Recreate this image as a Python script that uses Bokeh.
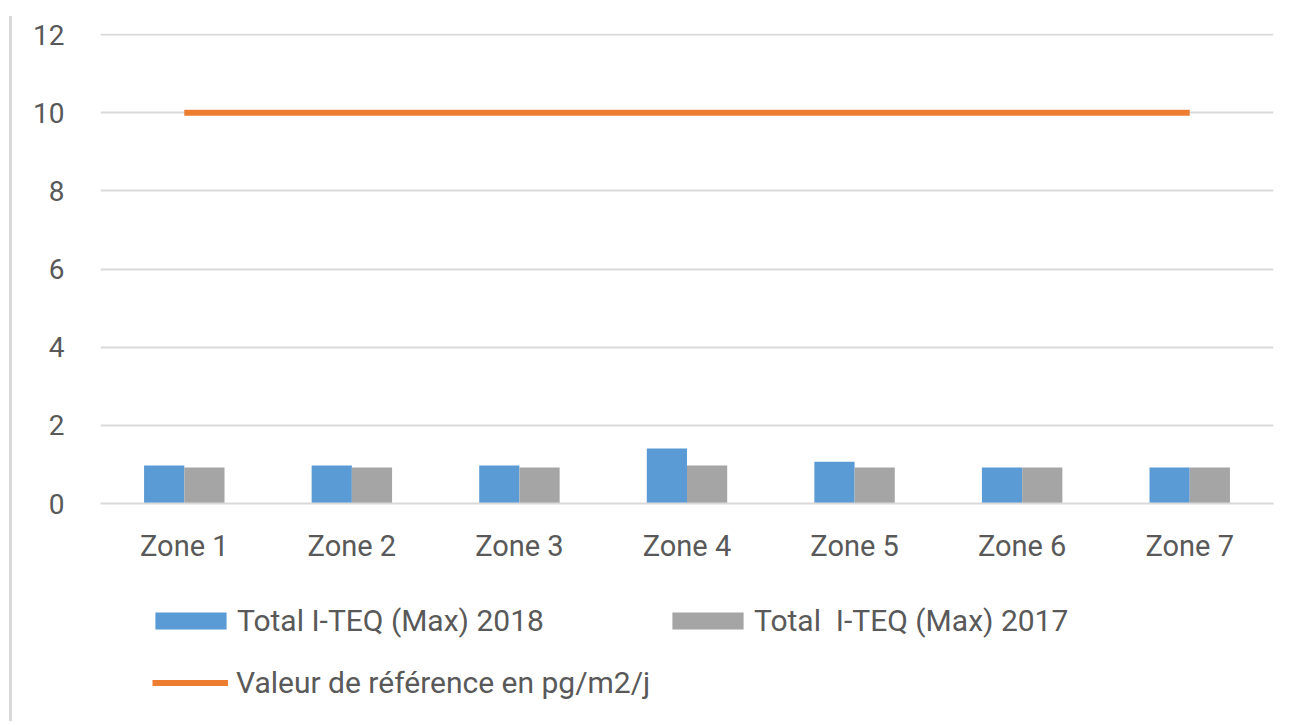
from bokeh.plotting import figure
from bokeh.models import (ColumnDataSource, Legend, LegendItem, FixedTicker,
                          Range1d, Div, Spacer)
from bokeh.layouts import row, column
from bokeh.transform import dodge
from bokeh.embed import file_html
from bokeh.resources import INLINE

zones = ["Zone 1", "Zone 2", "Zone 3", "Zone 4", "Zone 5", "Zone 6", "Zone 7"]
total_2018 = [0.97, 0.97, 0.97, 1.41, 1.07, 0.92, 0.92]
total_2017 = [0.92, 0.92, 0.92, 0.97, 0.92, 0.92, 0.92]
reference = [10, 10, 10, 10, 10, 10, 10]
y_ticks = [0, 2, 4, 6, 8, 10, 12]

label_2018 = "Total I-TEQ (Max) 2018"
label_2017 = "Total  I-TEQ (Max) 2017"
label_ref = "Valeur de référence en pg/m2/j"

BLUE = "#5b9bd5"
GRAY = "#a5a5a5"
ORANGE = "#ed7d31"
TEXT = "#595959"
GRID = "#d9d9d9"
FONT = "Roboto"

src = ColumnDataSource(dict(zone=zones, v18=total_2018, v17=total_2017, ref=reference))

p = figure(
    x_range=zones,
    y_range=Range1d(0, 12.03),
    width=1268,
    height=573,
    output_backend="svg",
    toolbar_location=None,
    min_border_left=83,
    min_border_right=12,
    min_border_top=33,
    min_border_bottom=70,
)
p.outline_line_color = None

r18 = p.vbar(x=dodge("zone", -0.12, range=p.x_range), top="v18", width=0.24,
             source=src, fill_color=BLUE, line_color=None)
r17 = p.vbar(x=dodge("zone", 0.12, range=p.x_range), top="v17", width=0.24,
             source=src, fill_color=GRAY, line_color=None)
rl = p.line(x="zone", y="ref", source=src, line_color=ORANGE, line_width=6)

p.yaxis.ticker = FixedTicker(ticks=y_ticks)
p.yaxis.axis_line_color = None
p.yaxis.major_tick_line_color = None
p.yaxis.minor_tick_line_color = None
p.yaxis.major_label_text_font = FONT
p.yaxis.major_label_text_font_size = "28px"
p.yaxis.major_label_text_color = TEXT
p.yaxis.major_label_standoff = 30

p.xaxis.axis_line_color = GRID
p.xaxis.axis_line_width = 2
p.xaxis.major_tick_line_color = None
p.xaxis.minor_tick_line_color = None
p.xaxis.major_label_text_font = FONT
p.xaxis.major_label_text_font_size = "29px"
p.xaxis.major_label_text_color = TEXT
p.xaxis.major_label_standoff = 19

p.xgrid.grid_line_color = None
p.ygrid.ticker = FixedTicker(ticks=y_ticks)
p.ygrid.grid_line_color = GRID
p.ygrid.grid_line_width = 2

# legend area: a separate figure whose (off-view) renderers only supply legend glyphs
lf = figure(width=1268, height=143, output_backend="svg", toolbar_location=None,
            x_range=Range1d(100, 101), y_range=Range1d(100, 101),
            x_axis_location=None, y_axis_location=None,
            min_border=0, min_border_left=0, min_border_right=0,
            min_border_top=0, min_border_bottom=0)
lf.outline_line_color = None
lf.grid.grid_line_color = None
d18 = lf.vbar(x="v18", top="v18", width=0.1, source=src, fill_color=BLUE, line_color=None)
d17 = lf.vbar(x="v17", top="v17", width=0.1, source=src, fill_color=GRAY, line_color=None)
dl = lf.line(x="v18", y="ref", source=src, line_color=ORANGE, line_width=6)


def make_legend(item, loc, gw, gh, standoff):
    lg = Legend(items=[item], location=loc, orientation="horizontal",
                padding=0, margin=0, border_line_color=None,
                background_fill_alpha=0, glyph_width=gw, glyph_height=gh,
                label_standoff=standoff, label_text_font=FONT,
                label_text_font_size="30px", label_text_color=TEXT)
    lf.add_layout(lg, "center")


make_legend(LegendItem(label=label_2018, renderers=[d18]), (46, 78), 89, 21, 2)
make_legend(LegendItem(label=label_2017, renderers=[d17]), (563, 78), 89, 21, 2)
make_legend(LegendItem(label=label_ref, renderers=[dl]), (52, 16), 76, 17, 8)

bar = column(Spacer(height=11), Div(width=3, height=705, styles={"background-color": GRID}))
layout = row(Spacer(width=4), bar, column(p, lf))

open("out.html", "w").write(file_html(layout, INLINE))
